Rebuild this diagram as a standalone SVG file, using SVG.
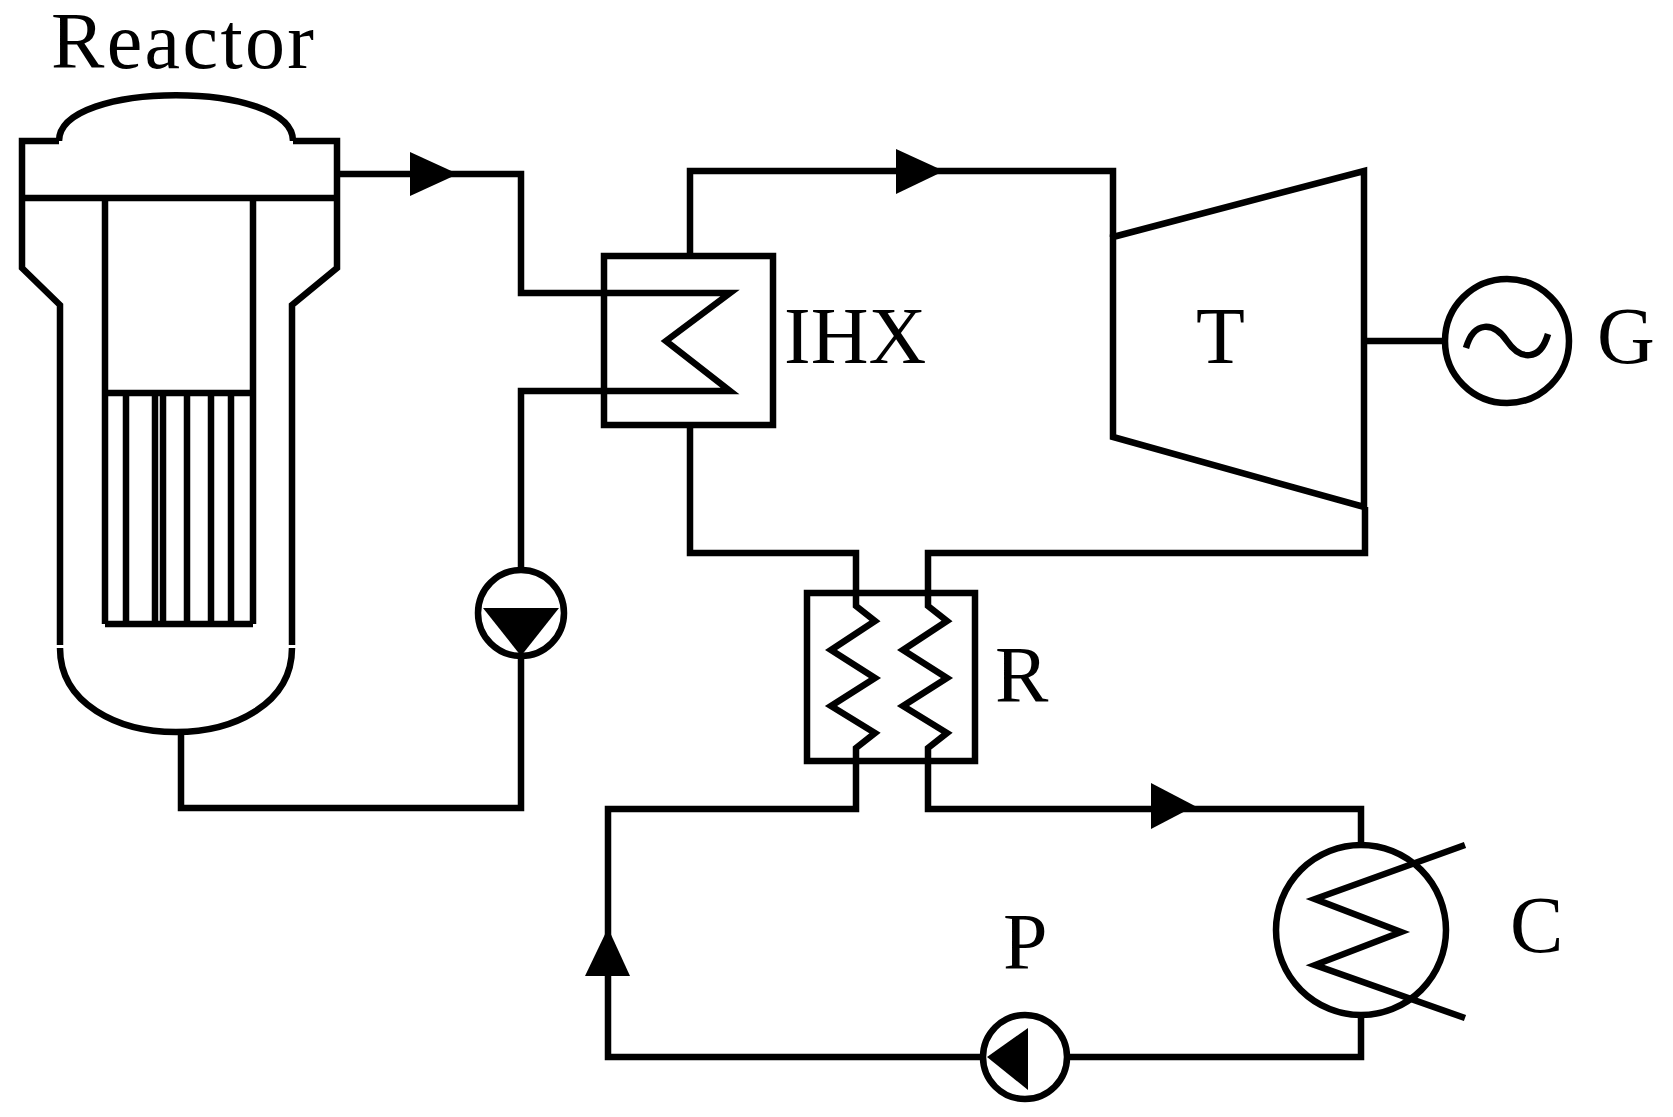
<svg xmlns="http://www.w3.org/2000/svg" width="1673" height="1117" viewBox="0 0 1673 1117">
<style>
.l{fill:none;stroke:#000;stroke-width:6.5;stroke-linejoin:miter}
.f{fill:#000;stroke:none}
text{font-family:"Liberation Serif",serif;font-size:80px;fill:#000}
</style>
<rect width="1673" height="1117" fill="#fff"/>
<g id="reactor">
<text x="51" y="68" textLength="263">Reactor</text>
<path class="l" d="M59,141 C59,80 293,80 293,141"/>
<path class="l" d="M59,141 H22 V268 L60,305 V645 M293,141 H337 V268 L292,305 V645"/>
<path class="l" d="M22,198 H337 M105,198 V624 M253,198 V624 M105,393 H253 M105,624 H253"/>
<path class="l" d="M126,393 V624 M155,393 V624 M163,393 V624 M187,393 V624 M211,393 V624 M231,393 V624"/>
<path class="l" d="M60,648 C60,760 292,760 292,648"/>
</g>
<g id="ihx">
<rect class="l" x="604" y="256" width="169" height="169"/>
<path class="l" d="M604,293 H730 L666,341 L730,391 H604"/>
<text x="784" y="363">IHX</text>
</g>
<g id="pump1">
<circle class="l" cx="521" cy="613" r="43"/>
<path class="f" d="M483,608 H559 L521,656 Z"/>
</g>
<g id="turbine">
<path class="l" d="M1113,237 L1364,171 V507 L1113,437 Z"/>
<text x="1196" y="363">T</text>
</g>
<g id="generator">
<circle class="l" cx="1507" cy="341" r="62"/>
<path class="l" d="M1466,348 C1474,320 1494,322 1507,341 C1520,360 1540,362 1548,334"/>
<text x="1597" y="363">G</text>
</g>
<g id="recuperator">
<rect class="l" x="807" y="593" width="168" height="168"/>
<path class="l" d="M856,593 V606 L875,621 L831,650 L875,678 L831,706 L875,733 L856,748 V761"/>
<path class="l" d="M928,593 V606 L947,621 L903,650 L947,678 L903,706 L947,733 L928,748 V761"/>
<text x="995" y="702">R</text>
</g>
<g id="condenser">
<circle class="l" cx="1361" cy="930" r="85"/>
<path class="l" d="M1465,845 L1315,899 L1401,932 L1315,965 L1465,1018"/>
<text x="1510" y="952">C</text>
</g>
<g id="pump2">
<circle class="l" cx="1025" cy="1057" r="42"/>
<path class="f" d="M987,1057 L1028,1028 V1090 Z"/>
<text x="1003" y="969">P</text>
</g>
<g id="connectors">
<path class="l" d="M337,174 H521 V293 H604"/>
<path class="f" d="M410,152 L458,174 L410,196 Z"/>
<path class="l" d="M604,391 H521 V570 M521,656 V808 H181 V731"/>
<path class="l" d="M690,256 V171 H1113 V237"/>
<path class="f" d="M896,149 L944,171 L896,194 Z"/>
<path class="l" d="M690,425 V553 H856 V593"/>
<path class="l" d="M928,593 V553 H1365 V507"/>
<path class="l" d="M1364,341 H1445"/>
<path class="l" d="M856,761 V809 H608 V1057 H983"/>
<path class="f" d="M585,976 L608,928 L630,976 Z"/>
<path class="l" d="M928,761 V809 H1361 V845"/>
<path class="f" d="M1151,783 L1195,806 L1151,829 Z"/>
<path class="l" d="M1361,1015 V1057 H1067"/>
</g>
</svg>
